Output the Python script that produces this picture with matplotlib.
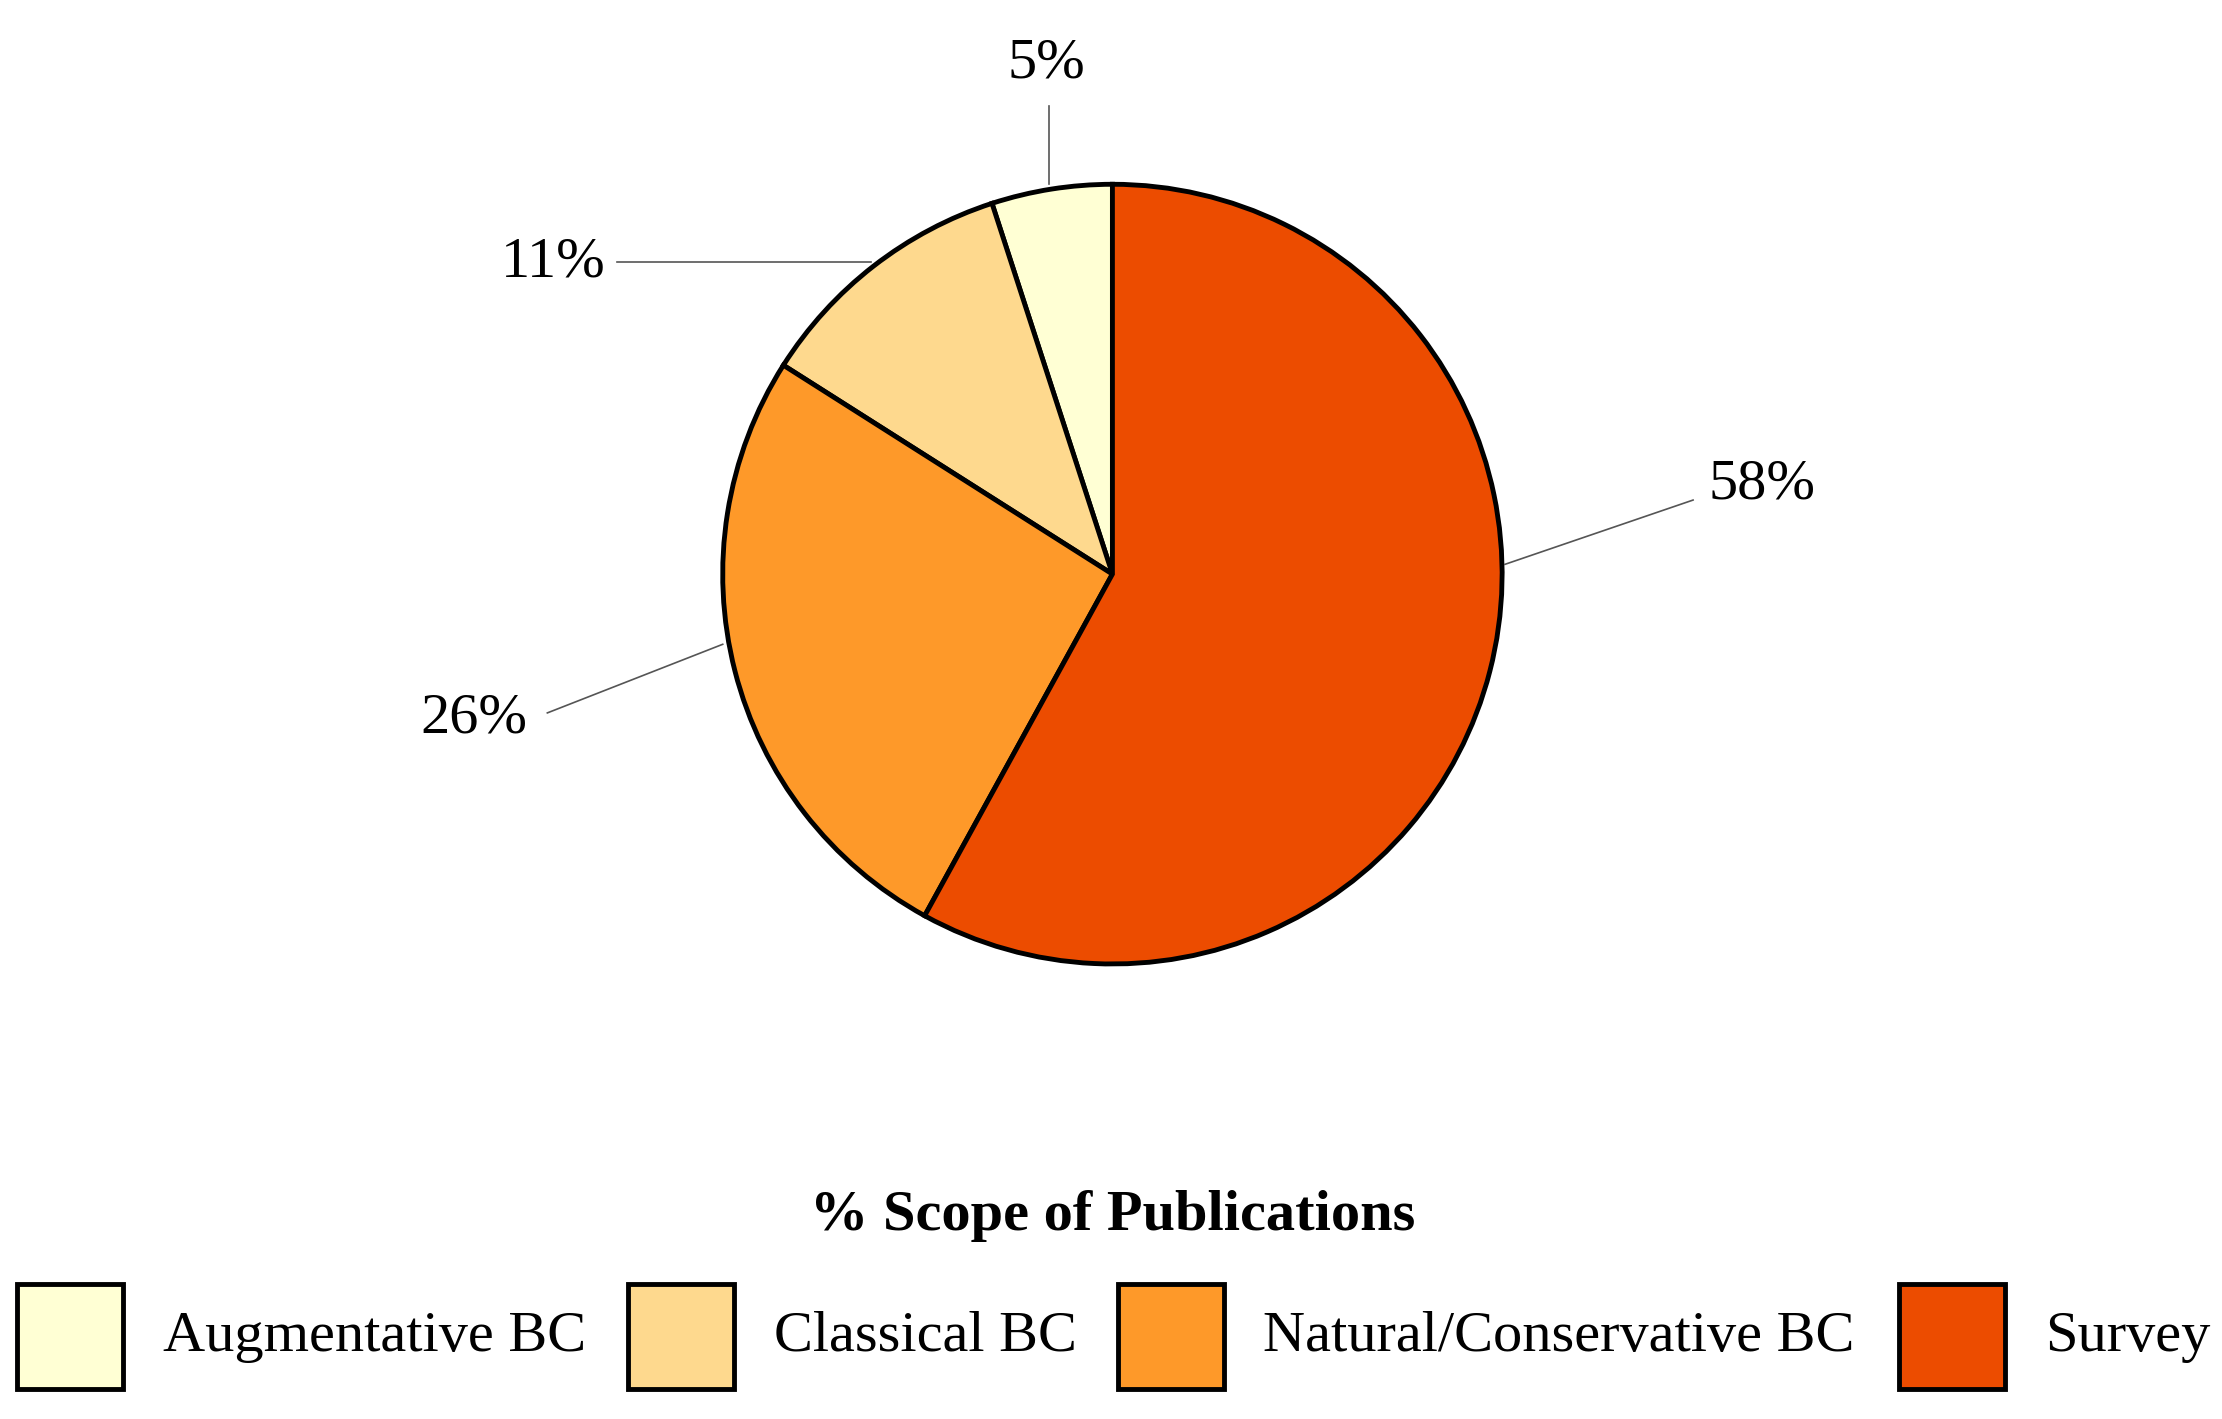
import matplotlib.pyplot as plt
from matplotlib.patches import Rectangle

categories = ["Augmentative BC", "Classical BC", "Natural/Conservative BC", "Survey"]
shares = [5, 11, 26, 58]
colors = ["#FFFFD4", "#FED98E", "#FE9929", "#EC4C00"]

plt.rcParams['font.family'] = ['Liberation Serif', 'DejaVu Serif']

W, H = 1568, 1001  # layout grid of the reference
fig = plt.figure(figsize=(22.22, 14.19), dpi=100)
ax = fig.add_axes([0, 0, 1, 1])

ax.pie(shares, colors=colors, startangle=90, counterclock=True, radius=1,
       wedgeprops=dict(edgecolor="black", linewidth=3.5))
ax.set_aspect("auto")
ax.set_xlim(-785 / 275, (W - 785) / 275)
ax.set_ylim(-(H - 405) / 275, 405 / 275)
ax.axis("off")

# leader lines: (start, elbow, text position, alignment)
leaders = [
    ((-0.164, 1.0), (-0.164, 1.2), (-0.17, 1.31), "center"),
    ((-0.62, 0.8), (-1.27, 0.8), (-1.3, 0.8), "right"),
    ((-1.0, -0.18), (-1.45, -0.356), (-1.5, -0.37), "right"),
    ((1.007, 0.025), (1.49, 0.19), (1.53, 0.23), "left"),
]
for s, (p0, p1, pt, ha) in zip(shares, leaders):
    ax.plot([p0[0], p1[0]], [p0[1], p1[1]], color="#555555", lw=1.2)
    ax.text(pt[0], pt[1], f"{s}%", ha=ha, va="center", fontsize=42)

fig.text(785 / W, 1 - 858 / H, "% Scope of Publications", ha="center", va="center",
         fontsize=42, fontweight="bold")

box_x = [12, 443, 789, 1340]
text_x = [115, 546, 891, 1443]
for bx, tx, lab, c in zip(box_x, text_x, categories, colors):
    fig.patches.append(Rectangle((bx / W, 1 - 980 / H), 75 / W, 74 / H,
                                 transform=fig.transFigure, facecolor=c,
                                 edgecolor="black", linewidth=3.5))
    fig.text(tx / W, 1 - 943 / H, lab, ha="left", va="center", fontsize=42)

fig.savefig("out.png", dpi=100)
